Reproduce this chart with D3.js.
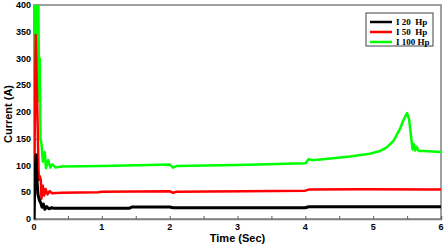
<!DOCTYPE html>
<html>
<head>
<meta charset="utf-8">
<script src="https://cdn.jsdelivr.net/npm/d3@7"></script>
<style>
  body { margin: 0; background: #fff; }
  svg { display: block; }
  text { white-space: pre; }
</style>
</head>
<body>
<div id="chart"></div>
<script>
// values
var seriesNames = ["I 20  Hp", "I 50  Hp", "I 100 Hp"];
var xTicks = [0, 1, 2, 3, 4, 5, 6];
var yTicks = [0, 50, 100, 150, 200, 250, 300, 350, 400];

var t20 = [0, 0.015, 0.03, 0.045, 0.06, 0.08, 0.1, 0.12, 0.14, 0.16, 0.19, 0.22, 0.26, 0.3, 1.4, 1.45, 2.0, 2.05, 4.0, 4.05, 6];
var i20 = [0, 80, 120, 70, 45, 35, 30, 22, 28, 18, 23, 19, 21, 20, 20, 22.5, 22.5, 21, 21, 23, 23];

var t50 = [0, 0.01, 0.025, 0.04, 0.05, 0.07, 0.085, 0.1, 0.11, 0.13, 0.15, 0.17, 0.2, 0.23, 0.27, 0.4, 0.95, 1.0, 1.5, 2.0, 2.05, 2.1, 3.1, 4.0, 4.05, 4.8, 6];
var i50 = [0, 150, 344, 250, 200, 73, 80, 73, 38, 62, 44, 56, 46, 52, 48, 49, 50, 51, 51.5, 52, 49, 51, 52, 53, 55, 55.5, 55];

var t100 = [0, 0.005, 0.015, 0.025, 0.035, 0.045, 0.055, 0.065, 0.075, 0.085, 0.095, 0.11, 0.13, 0.16, 0.175, 0.21, 0.24, 0.27, 0.32, 0.4, 1.0, 1.7, 2.0, 2.05, 2.1, 3.0, 3.3, 4.0, 4.05, 4.1, 4.3, 4.66, 4.95, 5.1, 5.2, 5.3, 5.4, 5.45, 5.5, 5.53, 5.58, 5.6, 5.62, 5.64, 5.67, 5.75, 6.0];
var i100 = [0, 440, 330, 440, 300, 430, 260, 410, 220, 300, 150, 141, 107, 125, 95, 110, 96, 102, 96, 98, 99, 101, 102, 96, 99, 101, 102, 104, 112, 110, 112, 117, 122, 127, 134, 146, 170, 186, 198, 186, 130, 140, 128, 135, 127, 127, 125];

var colors = ["#000000", "#ff0000", "#00ff00"];

var width = 445, height = 244;
var margin = {left: 34, right: 4, top: 5, bottom: 25};

var svg = d3.select("#chart").append("svg")
  .attr("width", width)
  .attr("height", height);

var x = d3.scaleLinear().domain([0, 6]).range([margin.left, width - margin.right]);
var y = d3.scaleLinear().domain([0, 400]).range([height - margin.bottom, margin.top]);

svg.append("clipPath").attr("id", "clip")
  .append("rect")
  .attr("x", x(0)).attr("y", y(400))
  .attr("width", x(6) - x(0)).attr("height", y(0) - y(400));

// frame
svg.append("rect")
  .attr("x", x(0)).attr("y", y(400))
  .attr("width", x(6) - x(0)).attr("height", y(0) - y(400))
  .attr("fill", "none")
  .attr("stroke", "#808080")
  .attr("stroke-width", 1.5);

// x axis, ticks pointing inward
var xAxis = svg.append("g")
  .attr("transform", "translate(0," + y(0) + ")")
  .call(d3.axisTop(x).tickValues(d3.range(0, 6.01, 0.5)).tickSize(3).tickFormat(""));
xAxis.select(".domain").attr("stroke", "#808080").attr("stroke-width", 1.5);
xAxis.selectAll(".tick line").attr("stroke", "#606060");

svg.append("g").selectAll("text")
  .data(xTicks)
  .enter().append("text")
  .attr("x", function(d) { return x(d); })
  .attr("y", y(0) + 11)
  .attr("text-anchor", "middle")
  .style("font", "bold 9px 'Liberation Sans', Arial, sans-serif")
  .text(function(d) { return d; });

// y axis
var yAxis = svg.append("g")
  .attr("transform", "translate(" + x(0) + ",0)")
  .call(d3.axisRight(y).tickValues(yTicks).tickSize(3).tickFormat(""));
yAxis.select(".domain").attr("stroke", "#808080").attr("stroke-width", 1.5);
yAxis.selectAll(".tick line").attr("stroke", "#606060");

svg.append("g").selectAll("text")
  .data(yTicks)
  .enter().append("text")
  .attr("x", x(0) - 3)
  .attr("y", function(d) { return y(d) + 3; })
  .attr("text-anchor", "end")
  .style("font", "bold 9px 'Liberation Sans', Arial, sans-serif")
  .text(function(d) { return d; });

svg.append("text")
  .attr("x", (x(0) + x(6)) / 2)
  .attr("y", 242)
  .attr("text-anchor", "middle")
  .style("font", "bold 11px 'Liberation Sans', Arial, sans-serif")
  .text("Time (Sec)");

svg.append("text")
  .attr("transform", "translate(12," + (y(200) + 2) + ") rotate(-90)")
  .attr("text-anchor", "middle")
  .style("font", "bold 11px 'Liberation Sans', Arial, sans-serif")
  .text("Current (A)");

// lines
var line = d3.line()
  .x(function(d) { return x(d[0]); })
  .y(function(d) { return y(d[1]); });

var series = [d3.zip(t20, i20), d3.zip(t50, i50), d3.zip(t100, i100)];
var plot = svg.append("g").attr("clip-path", "url(#clip)");
// draw green first, black on top
[2, 1, 0].forEach(function(k) {
  plot.append("path")
    .datum(series[k])
    .attr("d", line)
    .attr("fill", "none")
    .attr("stroke", colors[k])
    .attr("stroke-width", k == 0 ? 3 : 2.5)
    .attr("stroke-linejoin", "round");
});

// legend
var lg = svg.append("g").attr("transform", "translate(366,13)");
lg.append("rect")
  .attr("width", 67).attr("height", 33)
  .attr("fill", "#fff")
  .attr("stroke", "#404040")
  .attr("stroke-width", 1);
seriesNames.forEach(function(name, k) {
  lg.append("line")
    .attr("x1", 4).attr("x2", 26)
    .attr("y1", 9 + k * 10).attr("y2", 9 + k * 10)
    .attr("stroke", colors[k])
    .attr("stroke-width", 2.5);
  lg.append("text")
    .attr("x", 30)
    .attr("y", 12 + k * 10)
    .style("font", "bold 9px 'Liberation Serif', 'Times New Roman', serif")
    .text(name);
});
</script>
</body>
</html>
